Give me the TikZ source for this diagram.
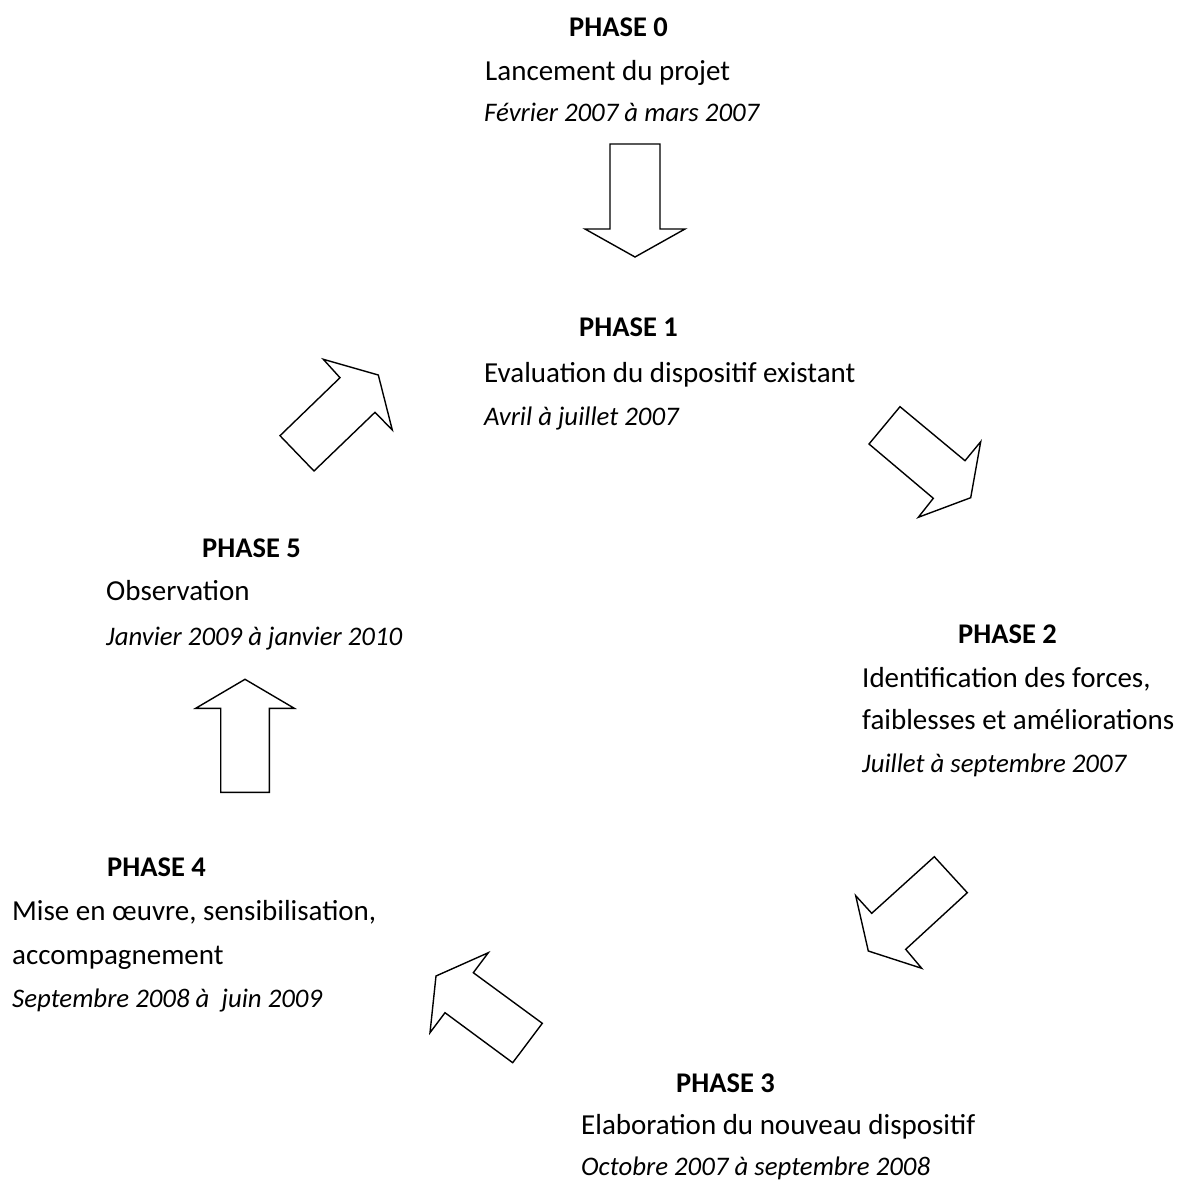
\documentclass[tikz,border=0pt]{standalone}
\usepackage{fontspec}
\setmainfont{Carlito}
\begin{document}
\begin{tikzpicture}[x=1pt,y=-1pt,
  blockarrow/.style={draw=black,fill=white,line width=1.4pt,line join=miter},
  txt/.style={inner sep=0pt,anchor=base west,font=\fontsize{29}{33}\selectfont},
  ttl/.style={txt,font=\fontsize{28.5}{33}\selectfont\bfseries},
  dte/.style={txt,font=\fontsize{26.8}{31}\selectfont\itshape}]
\useasboundingbox (0,0) rectangle (1183,1180);
% Phase 0
\node[ttl] (p0t) at (569,37) {PHASE 0};
\node[txt] (p0a) at (485,81) {Lancement du projet};
\node[dte] (p0b) at (484,122) {Février 2007 à mars 2007};
% Phase 1
\node[ttl] (p1t) at (579,336) {PHASE 1};
\node[txt] (p1a) at (484,382) {Evaluation du dispositif existant};
\node[dte] (p1b) at (484,425) {Avril à juillet 2007};
% Phase 2
\node[ttl] (p2t) at (958,643) {PHASE 2};
\node[txt] (p2a) at (862,687) {Identification des forces,};
\node[txt] (p2b) at (862,729) {faiblesses et améliorations};
\node[dte] (p2c) at (862,772) {Juillet à septembre 2007};
% Phase 3
\node[ttl] (p3t) at (676,1092) {PHASE 3};
\node[txt] (p3a) at (581,1134) {Elaboration du nouveau dispositif};
\node[dte] (p3b) at (581,1175) {Octobre 2007 à septembre 2008};
% Phase 4
\node[ttl] (p4t) at (107,876) {PHASE 4};
\node[txt] (p4a) at (12,920) {Mise en œuvre, sensibilisation,};
\node[txt] (p4b) at (12,964) {accompagnement};
\node[dte] (p4c) at (12,1007) {Septembre 2008 à~~juin 2009};
% Phase 5
\node[ttl] (p5t) at (202,557) {PHASE 5};
\node[txt] (p5a) at (106,600) {Observation};
\node[dte] (p5b) at (106,645) {Janvier 2009 à janvier 2010};
% block arrows
\draw[blockarrow] (610,144) -- (660,144) -- (660,229) -- (685,229) -- (635,257) -- (585,229) -- (610,229) -- cycle;
\draw[blockarrow] (280,435.7) -- (314,471) -- (375,412.3) -- (392.3,430) -- (378.3,375) -- (323.3,359.3) -- (340,377.7) -- cycle;
\draw[blockarrow] (900,406.7) -- (965,460.7) -- (980.7,441.7) -- (970.7,497.7) -- (918.3,517.3) -- (933.3,498.3) -- (869,444) -- cycle;
\draw[blockarrow] (934.3,856.7) -- (967.3,892.7) -- (905.7,949.3) -- (921.7,968.3) -- (868.3,951) -- (855.7,895.7) -- (871.7,913.3) -- cycle;
\draw[blockarrow] (488.3,952.7) -- (473.3,972.7) -- (542.3,1023.3) -- (512.7,1062.7) -- (445,1012.7) -- (430,1032.7) -- (436,976) -- cycle;
\draw[blockarrow] (220.7,792.3) -- (269.3,792.3) -- (269.3,708.3) -- (294.3,708.3) -- (245,679.3) -- (195.7,708.3) -- (220.7,708.3) -- cycle;
\end{tikzpicture}
\end{document}
